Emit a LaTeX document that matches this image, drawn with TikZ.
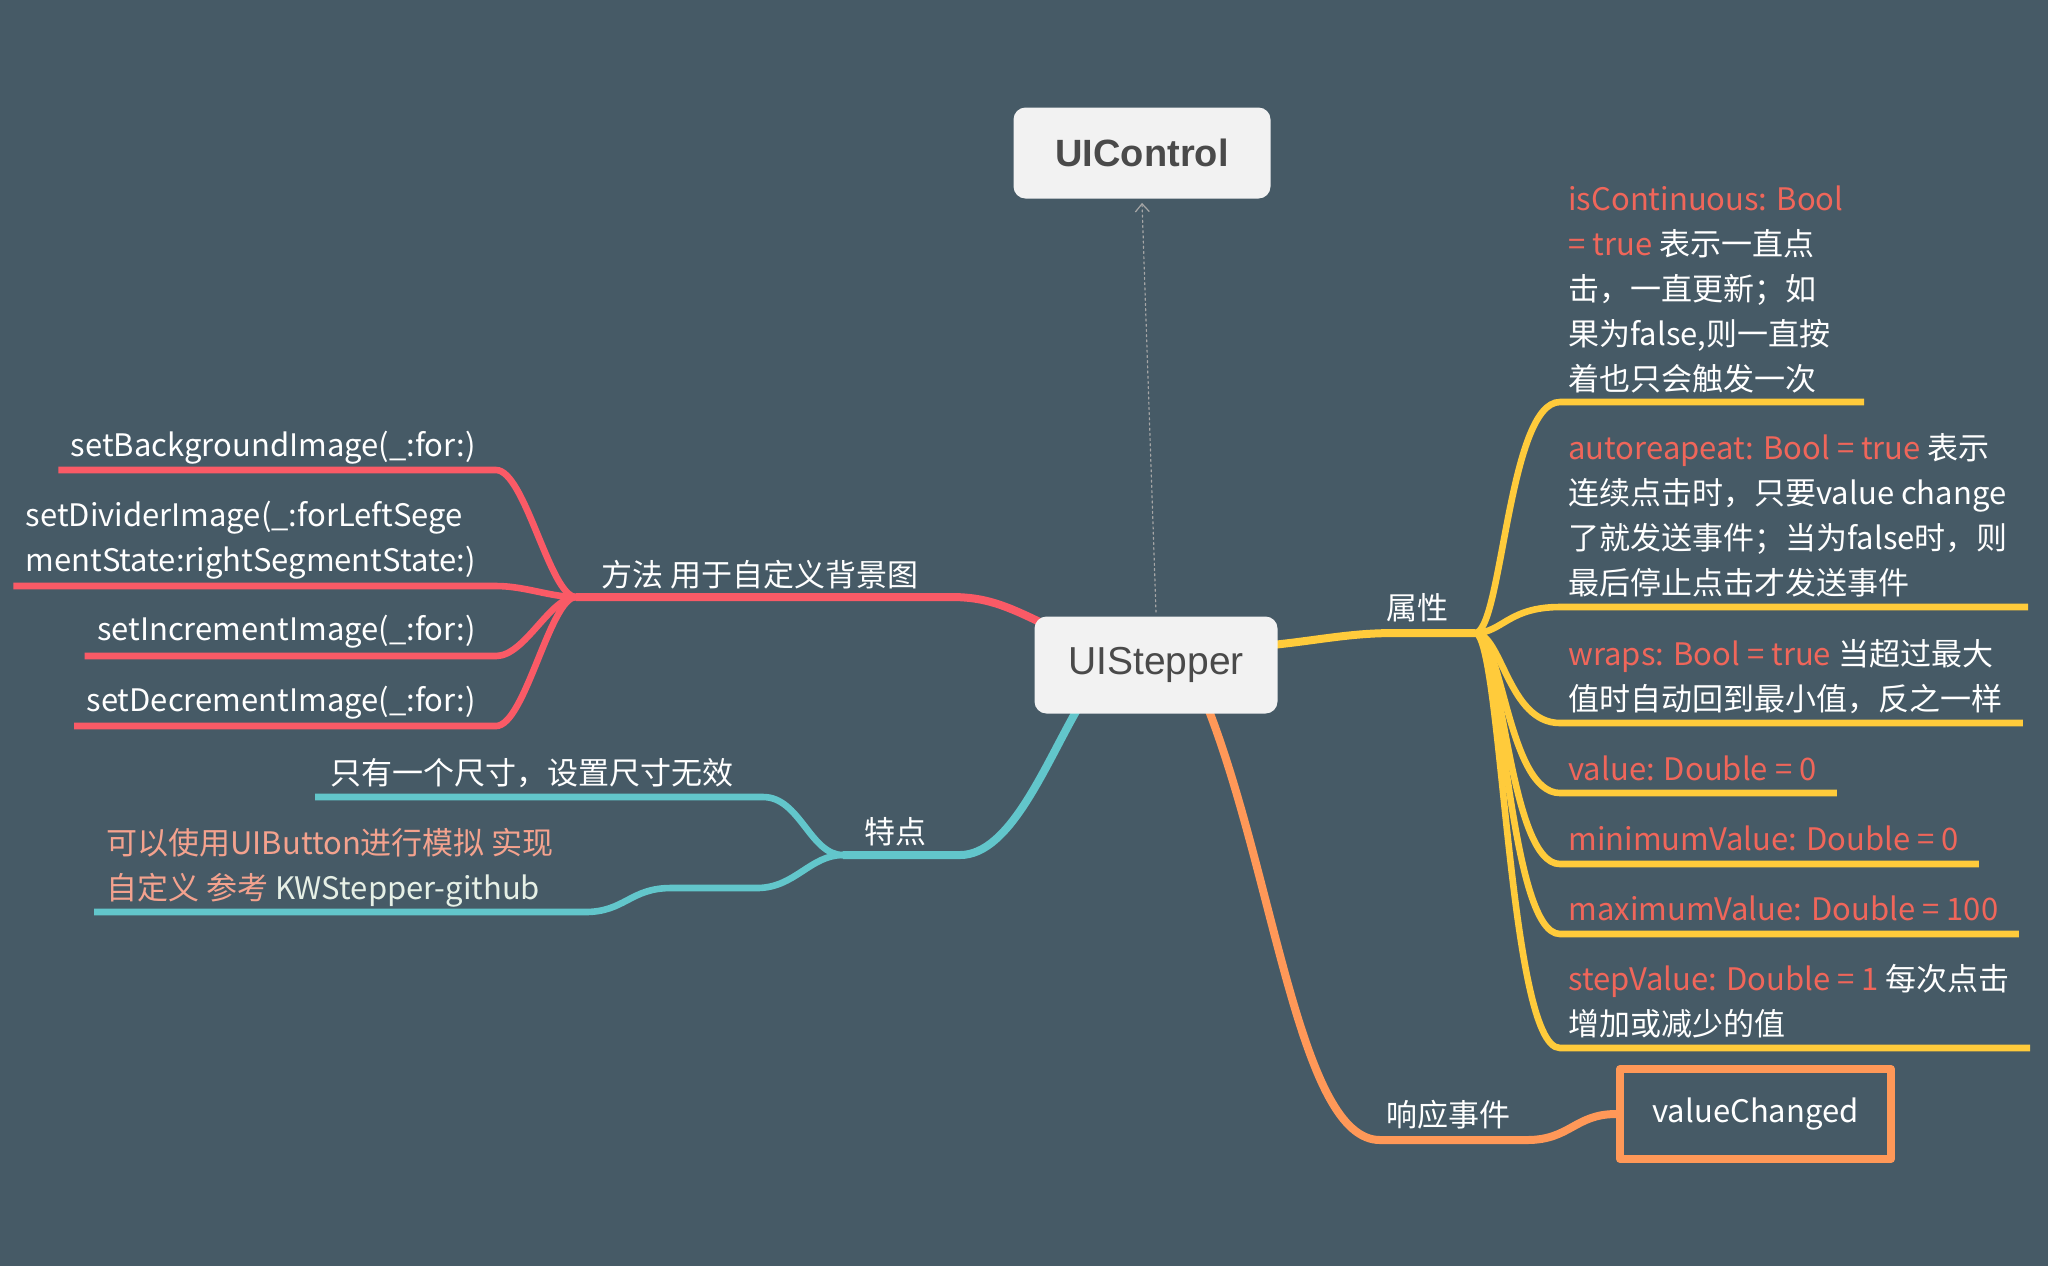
\documentclass[tikz,border=0pt]{standalone}
\usepackage{fontspec}
\setmainfont{Noto Sans CJK SC}
\newfontfamily\boxfont{Liberation Sans}
\usetikzlibrary{arrows.meta,backgrounds}
\definecolor{bg}{HTML}{465A66}
\definecolor{boxfill}{HTML}{F2F2F2}
\definecolor{boxtext}{HTML}{4A4A4A}
\definecolor{lred}{HTML}{FA5A66}
\definecolor{lyel}{HTML}{FFCB3B}
\definecolor{lteal}{HTML}{62C6CB}
\definecolor{lorg}{HTML}{FF9858}
\definecolor{propred}{HTML}{F0665A}
\definecolor{salm}{HTML}{F4A28E}
\definecolor{pale}{HTML}{E6F0E6}
\newcommand\pname[1]{\textcolor{propred}{#1}}
\newcommand\sname[1]{\textcolor{salm}{#1}}
\tikzset{
	box/.style={fill=boxfill, text=boxtext, rounded corners=6pt, inner sep=0pt},
	txt/.style={text=white, inner sep=0pt, align=left},
	trunk/.style={line width=4pt},
	twig/.style={line width=3.3pt},
}
\begin{document}
\begin{tikzpicture}[x=0.5pt, y=-0.5pt, line cap=round, line join=round, font=\fontsize{15.5}{22.5}\selectfont]
			\path
			(576,597) coordinate (hubL)
			(843,855) coordinate (hubF)
			(1475,633) coordinate (hubP)
			(1527,1140) coordinate (rE)
			;
			% centre boxes
			\node[box, minimum width=128.5pt, minimum height=45.5pt, font=\boxfont\fontsize{19}{19}\selectfont\bfseries] (ctrl) at (1142,153) {UIControl};
			\node[box, minimum width=121.5pt, minimum height=48.5pt, font=\boxfont\fontsize{19.5}{19.5}\selectfont] (stepper) at (1156,665) {UIStepper};
			\node[draw=lorg, line width=4pt, text=white, minimum width=135.5pt, minimum height=45pt, inner sep=0pt] (val) at (1755.5,1114) {\raisebox{-1pt}{valueChanged}};
			% branch labels
			\node[txt] (lL) at (760,575) {方法 用于自定义背景图};
			\node[txt] (lF) at (895,832) {特点};
			\node[txt] (lP) at (1417,608) {属性};
			\node[txt] (lR) at (1448,1115) {响应事件};
			% methods
			\node[txt, anchor=east] (mB) at (476,448) {setBackgroundImage(\_:for:)};
			\node[txt, anchor=east] (mD) at (476,540) {setDividerImage(\_:forLeftSege\\mentState:rightSegmentState:)};
			\node[txt, anchor=east] (mI) at (476,632) {setIncrementImage(\_:for:)};
			\node[txt, anchor=east] (mC) at (476,703) {setDecrementImage(\_:for:)};
			% features
			\node[txt, anchor=west] (fA) at (330,773) {只有一个尺寸，设置尺寸无效};
			\node[txt, anchor=west] (fB) at (106,868) {\sname{可以使用UIButton进行模拟 实现}\\\sname{自定义 参考} \textcolor{pale}{KWStepper-github}};
			% properties
			\node[txt, anchor=west] (pC) at (1568,289) {\pname{isContinuous: Bool}\\\pname{= true} 表示一直点\\击，一直更新；如\\果为false,则一直按\\着也只会触发一次};
			\node[txt, anchor=west] (pA) at (1568,515.5) {\pname{autoreapeat: Bool = true} 表示\\连续点击时，只要value change\\了就发送事件；当为false时，则\\最后停止点击才发送事件};
			\node[txt, anchor=west] (pW) at (1568,676.5) {\pname{wraps: Bool = true} 当超过最大\\值时自动回到最小值，反之一样};
			\node[txt, anchor=west] (pV) at (1568,768) {\pname{value: Double = 0}};
			\node[txt, anchor=west] (pN) at (1568,838) {\pname{minimumValue: Double = 0}};
			\node[txt, anchor=west] (pX) at (1568,908) {\pname{maximumValue: Double = 100}};
			\node[txt, anchor=west] (pS) at (1568,1001.5) {\pname{stepValue: Double = 1} 每次点击\\增加或减少的值};
			\draw[gray!70, line width=0.6pt, dash pattern=on 1pt off 1.6pt, -{Straight Barb[length=4pt,width=7pt]}] ([yshift=2pt]stepper.north) -- ([yshift=-2pt]ctrl.south);
			\begin{scope}[on background layer]
				\fill[bg] (0,0) rectangle (2048,1266);
				% trunks
				\draw[trunk,lred] ([shift={(5pt,-4pt)}]stepper.north west) .. controls (1005,605) and (985,597) .. (951,597) -- (hubL);
				\draw[trunk,lteal] ([shift={(22pt,3pt)}]stepper.south west) .. controls (1045,765) and (1010,855) .. (960,855) -- (hubF);
				\draw[trunk,lyel] ([shift={(-3pt,10pt)}]stepper.east) .. controls (1320,640) and (1350,633) .. (1395,633) -- (hubP);
				\draw[trunk,lorg] ([shift={(-35pt,3pt)}]stepper.south east) .. controls (1275,880) and (1300,1140) .. (1380,1140) -- (rE) .. controls (1570,1140) and (1575,1114) .. (val.west);
				% twigs
				\foreach \n/\y in {mB/470,mD/586,mI/656,mC/726}
				\draw[twig,lred] (hubL) .. controls (550,597) and (525,\y) .. (496,\y) -- (\n.west |- 0,\y) -- ++(-12,0);
				\foreach \n/\y in {pC/402,pA/607,pW/723,pV/793,pN/864,pX/934,pS/1048}
				\draw[twig,lyel] (hubP) .. controls (1502,633) and (1508,\y) .. (1560,\y) -- (\n.east |- 0,\y) -- ++(20,0);
				\draw[twig,lteal] (hubF) .. controls (810,855) and (800,797) .. (763,797) -- (fA.west |- 0,797) -- ++(-15,0);
				\draw[twig,lteal] (hubF) .. controls (810,855) and (795,888) .. (757,888) -- (671,888) .. controls (630,888) and (625,912) .. (585,912) -- (fB.west |- 0,912) -- ++(-12,0);
			\end{scope}
		\end{tikzpicture}
\end{document}
